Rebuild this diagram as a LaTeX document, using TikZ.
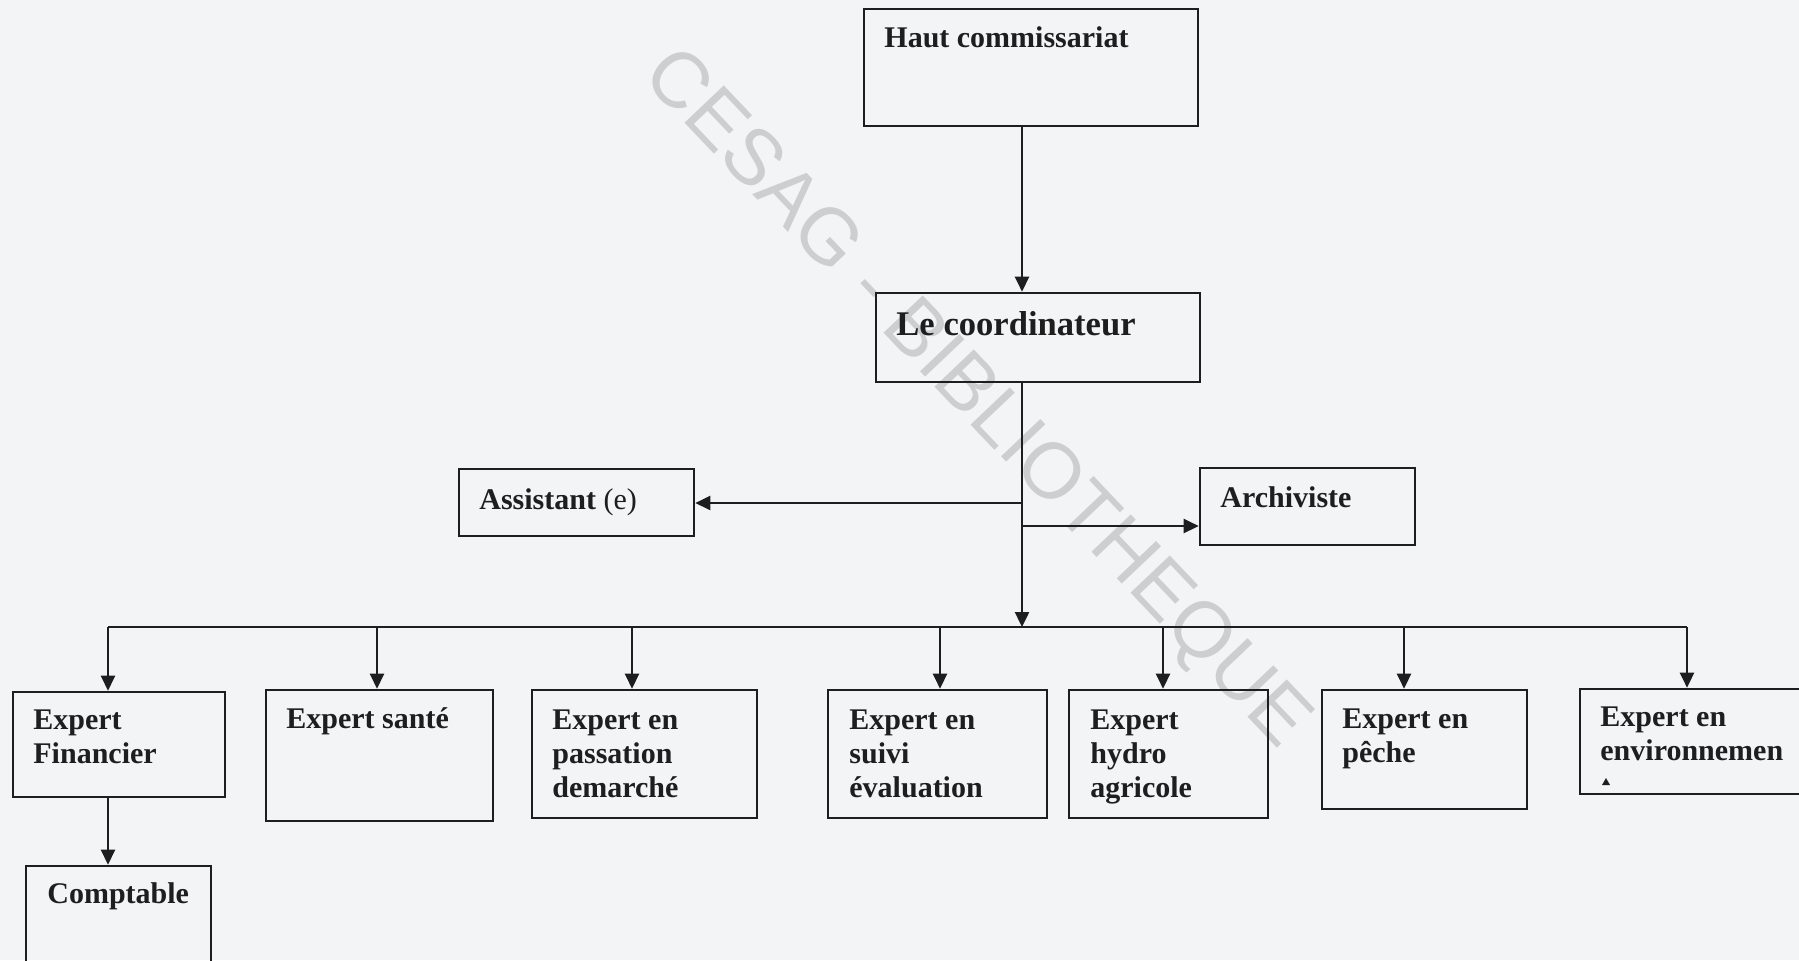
\documentclass[tikz,border=0pt]{standalone}
\usepackage{fontspec}
\setmainfont{Liberation Serif}
\newfontfamily\wmfont{Liberation Sans}
\usetikzlibrary{arrows.meta,fit}
\definecolor{bgcol}{HTML}{F3F4F6}
\definecolor{ink}{HTML}{1E1E1E}
\definecolor{wm}{HTML}{CDCED0}
\begin{document}
\begin{tikzpicture}[x=0.5pt,y=-0.5pt,
  boxst/.style={draw=ink,line width=1.3pt,inner sep=0pt,fit={#1}},
  txt/.style={anchor=base west,inner sep=0pt,text=ink,font=\fontsize{15}{17}\selectfont\bfseries},
  big/.style={anchor=base west,inner sep=0pt,text=ink,font=\fontsize{17.3}{19}\selectfont\bfseries},
  conn/.style={draw=ink,line width=1.2pt},
  arr/.style={conn,-{Triangle[length=7.5pt,width=7pt]}}]
\useasboundingbox (0,0) rectangle (1799,960);
\fill[bgcol] (0,0) rectangle (1799,960);
% watermark
\node[rotate=-46.5,inner sep=0pt,text=wm,font=\fontsize{39.4}{39.4}\selectfont\wmfont] (wmark) at (975,400) {CESAG - BIBLIOTHEQUE};
% boxes
\node[boxst={(864,9)(1198,126)}] (haut) {};
\node[boxst={(876,293)(1200,382)}] (coord) {};
\node[boxst={(459,469)(694,536)}] (assist) {};
\node[boxst={(1200,468)(1415,545)}] (archi) {};
\node[boxst={(13,692)(225,797)}] (fin) {};
\node[boxst={(266,690)(493,821)}] (sante) {};
\node[boxst={(532,690)(757,818)}] (pass) {};
\node[boxst={(828,690)(1047,818)}] (suivi) {};
\node[boxst={(1069,690)(1268,818)}] (hydro) {};
\node[boxst={(1322,690)(1527,809)}] (peche) {};
\node[boxst={(1580,689)(1815,794)}] (env) {};
\node[boxst={(26,866)(211,968)}] (compt) {};
% texts
\node[txt] (thaut) at (884,47) {Haut commissariat};
\node[big] (tcoord) at (896,335) {Le coordinateur};
\node[txt] (tassist) at (479,509) {Assistant \textmd{(e)}};
\node[txt] (tarchi) at (1220,507) {Archiviste};
\node[txt] (tfin) at (33,729) {\vtop{\hbox{Expert}\hbox{Financier}}};
\node[txt] (tsante) at (286,728) {Expert santé};
\node[txt] (tpass) at (552,729) {\vtop{\hbox{Expert en}\hbox{passation}\hbox{demarché}}};
\node[txt] (tsuivi) at (849,729) {\vtop{\hbox{Expert en}\hbox{suivi}\hbox{évaluation}}};
\node[txt] (thydro) at (1090,729) {\vtop{\hbox{Expert}\hbox{hydro}\hbox{agricole}}};
\node[txt] (tpeche) at (1342,728) {\vtop{\hbox{Expert en}\hbox{pêche}}};
\node[txt] (tenv) at (1600,726) {\vtop{\hbox{Expert en}\hbox{environnemen}}};
\node[txt] (tcompt) at (47,903) {Comptable};
\fill[ink] (1602,785) -- (1606,778) -- (1610,785) -- cycle;
% coordinates
\coordinate (tr) at (1022,382);
\coordinate (ja) at (1022,503);
\coordinate (jb) at (1022,526);
\coordinate (bus) at (1022,627);
\coordinate (b1) at (108,627);
\coordinate (b2) at (377,627);
\coordinate (b3) at (632,627);
\coordinate (b4) at (940,627);
\coordinate (b5) at (1163,627);
\coordinate (b6) at (1404,627);
\coordinate (b7) at (1687,627);
% connectors
\draw[arr] (haut.south -| tr) -- (coord.north -| tr);
\draw[arr] (tr) -- (bus);
\draw[arr] (ja) -- (ja -| assist.east);
\draw[arr] (jb) -- (jb -| archi.west);
\draw[conn] (b1) -- (b7);
\draw[arr] (b1) -- (b1 |- fin.north);
\draw[arr] (b2) -- (b2 |- sante.north);
\draw[arr] (b3) -- (b3 |- pass.north);
\draw[arr] (b4) -- (b4 |- suivi.north);
\draw[arr] (b5) -- (b5 |- hydro.north);
\draw[arr] (b6) -- (b6 |- peche.north);
\draw[arr] (b7) -- (b7 |- env.north);
\draw[arr] (fin.south -| b1) -- (compt.north -| b1);
\end{tikzpicture}
\end{document}
